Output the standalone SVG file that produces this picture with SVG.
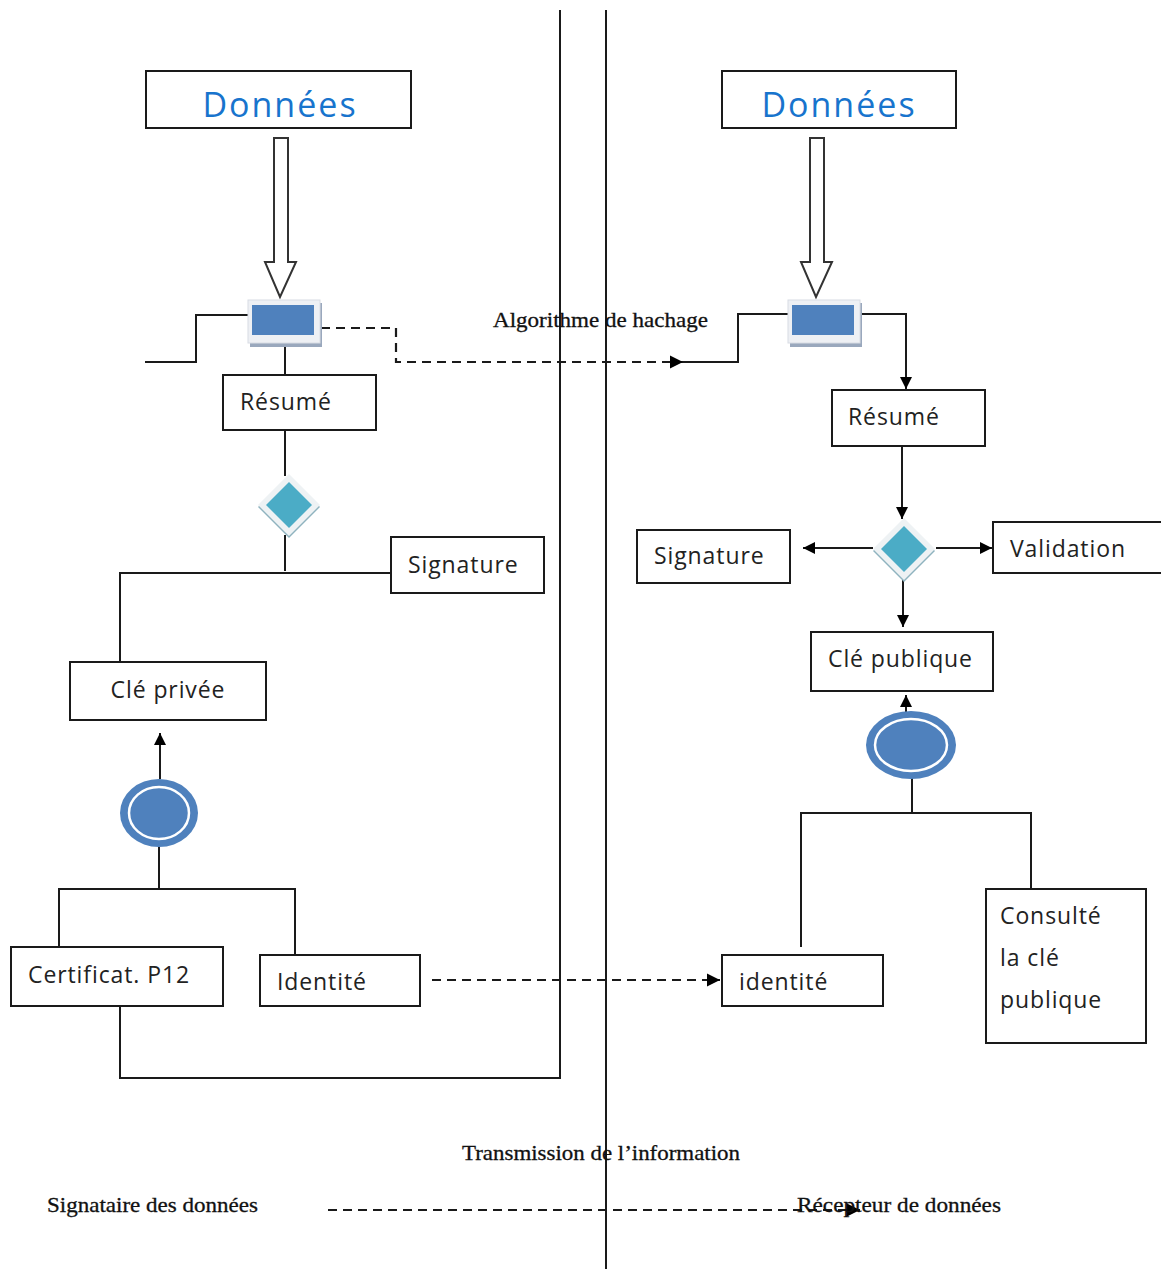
<svg xmlns="http://www.w3.org/2000/svg" width="1161" height="1269" viewBox="0 0 1161 1269">
  <defs>
    <style>
      .box { fill: #fff; stroke: #1a1a1a; stroke-width: 2; }
      .lbl { font-family: "Open Sans", "Liberation Sans", sans-serif; font-size: 23px; letter-spacing: 0.9px; fill: #222; }
      .big { font-family: "Open Sans", "Liberation Sans", sans-serif; font-size: 34px; letter-spacing: 2px; fill: #1874cd; text-anchor: middle; }
      .serif { font-family: "Liberation Serif", serif; font-size: 21px; fill: #111; stroke: #111; stroke-width: 0.3; }
      .ln { fill: none; stroke: #1a1a1a; stroke-width: 2; }
      .dash { fill: none; stroke: #1a1a1a; stroke-width: 2.2; stroke-dasharray: 9 6; }
      .hollow { fill: #fff; stroke: #333; stroke-width: 2; }
    </style>
    <marker id="ah" viewBox="0 0 10 10" refX="10" refY="5" markerWidth="6" markerHeight="6" markerUnits="strokeWidth" orient="auto">
      <path d="M0,0 L10,5 L0,10 z" fill="#000"/>
    </marker>
    <!-- process block: light frame with blue core -->
    <g id="hashBlock">
      <rect x="2" y="3" width="72" height="44" fill="#9aa8bd"/>
      <rect x="0" y="0" width="72" height="43" fill="#eef0f4" stroke="#d8dce4" stroke-width="1"/>
      <rect x="4" y="5" width="62" height="30" fill="#4f81bd"/>
    </g>
    <!-- decision diamond -->
    <g id="decision">
      <path d="M0,-29 L31,2 L0,33 L-31,2 z" fill="#8fb3bf"/>
      <path d="M0,-31 L31,0 L0,31 L-31,0 z" fill="#eef2f4"/>
      <path d="M0,-23 L23,0 L0,23 L-23,0 z" fill="#4bacc6"/>
    </g>
  </defs>

  <!-- swimlane separators -->
  <g id="lanes">
    <line class="ln" x1="560" y1="10" x2="560" y2="1079"/>
    <line class="ln" x1="606" y1="10" x2="606" y2="1269"/>
  </g>

  <!-- connectors -->
  <g id="connectors">
    <!-- left side -->
    <path class="ln" d="M145,362 H196 V315 H250"/>
    <path class="dash" d="M321,328 H396 V362 H683" marker-end="url(#ah)"/>
    <path class="ln" d="M683,362 H738 V314 H792"/>
    <line class="ln" x1="285" y1="343" x2="285" y2="375"/>
    <line class="ln" x1="285" y1="430" x2="285" y2="476"/>
    <line class="ln" x1="285" y1="535" x2="285" y2="571"/>
    <path class="ln" d="M391,573 H120 V662"/>
    <line class="ln" x1="160" y1="779" x2="160" y2="733" marker-end="url(#ah)"/>
    <line class="ln" x1="159" y1="847" x2="159" y2="889"/>
    <path class="ln" d="M59,947 V889 H295 V955"/>
    <path class="ln" d="M120,1006 V1078 H560"/>
    <line class="dash" x1="432" y1="980" x2="720" y2="980" marker-end="url(#ah)"/>
    <!-- right side -->
    <path class="ln" d="M858,314 H906 V389" marker-end="url(#ah)"/>
    <line class="ln" x1="902" y1="446" x2="902" y2="519" marker-end="url(#ah)"/>
    <line class="ln" x1="873" y1="548" x2="803" y2="548" marker-end="url(#ah)"/>
    <line class="ln" x1="936" y1="548" x2="992" y2="548" marker-end="url(#ah)"/>
    <line class="ln" x1="903" y1="580" x2="903" y2="627" marker-end="url(#ah)"/>
    <line class="ln" x1="906" y1="720" x2="906" y2="695" marker-end="url(#ah)"/>
    <line class="ln" x1="912" y1="760" x2="912" y2="813"/>
    <path class="ln" d="M801,947 V813 H1031 V889"/>
    <!-- transmission -->
    <line class="dash" x1="328" y1="1210" x2="860" y2="1210" marker-end="url(#ah)"/>
  </g>

  <!-- sender lane -->
  <g id="donnees-sender">
    <rect class="box" x="146" y="71" width="265" height="57"/>
    <text class="big" x="280" y="117">Données</text>
  </g>
  <g id="feed-sender">
    <path class="hollow" d="M274,138 H288 V262 H296 L280,297 L265,262 H274 z"/>
  </g>
  <g id="hash-sender">
    <use href="#hashBlock" x="248" y="300"/>
  </g>
  <g id="resume-sender">
    <rect class="box" x="223" y="375" width="153" height="55"/>
    <text class="lbl" x="240" y="410">Résumé</text>
  </g>
  <g id="decision-sender">
    <use href="#decision" x="289" y="505"/>
  </g>
  <g id="signature-sender">
    <rect class="box" x="391" y="537" width="153" height="56"/>
    <text class="lbl" x="408" y="573">Signature</text>
  </g>
  <g id="cle-privee">
    <rect class="box" x="70" y="662" width="196" height="58"/>
    <text class="lbl" x="168" y="698" text-anchor="middle">Clé privée</text>
  </g>
  <g id="token-sender">
    <ellipse cx="159" cy="813" rx="39" ry="34" fill="#4f81bd"/>
    <ellipse cx="159" cy="813" rx="30" ry="26" fill="none" stroke="#fff" stroke-width="2.5"/>
  </g>
  <g id="certificat">
    <rect class="box" x="11" y="947" width="212" height="59"/>
    <text class="lbl" x="28" y="983">Certificat. P12</text>
  </g>
  <g id="identite-sender">
    <rect class="box" x="260" y="955" width="160" height="51"/>
    <text class="lbl" x="277" y="990">Identité</text>
  </g>

  <!-- receiver lane -->
  <g id="donnees-receiver">
    <rect class="box" x="722" y="71" width="234" height="57"/>
    <text class="big" x="839" y="117">Données</text>
  </g>
  <g id="feed-receiver">
    <path class="hollow" d="M810,138 H824 V262 H832 L816,297 L801,262 H810 z"/>
  </g>
  <g id="hash-receiver">
    <use href="#hashBlock" x="788" y="300"/>
  </g>
  <g id="resume-receiver">
    <rect class="box" x="832" y="390" width="153" height="56"/>
    <text class="lbl" x="848" y="425">Résumé</text>
  </g>
  <g id="decision-receiver">
    <use href="#decision" x="904" y="549"/>
  </g>
  <g id="signature-receiver">
    <rect class="box" x="637" y="530" width="153" height="53"/>
    <text class="lbl" x="654" y="564">Signature</text>
  </g>
  <g id="validation">
    <rect class="box" x="993" y="522" width="170" height="51"/>
    <text class="lbl" x="1010" y="557">Validation</text>
  </g>
  <g id="cle-publique">
    <rect class="box" x="811" y="632" width="182" height="59"/>
    <text class="lbl" x="828" y="667">Clé publique</text>
  </g>
  <g id="token-receiver">
    <ellipse cx="911" cy="745" rx="45" ry="34" fill="#4f81bd"/>
    <ellipse cx="911" cy="745" rx="36" ry="26" fill="none" stroke="#fff" stroke-width="2.5"/>
  </g>
  <g id="identite-receiver">
    <rect class="box" x="722" y="955" width="161" height="51"/>
    <text class="lbl" x="739" y="990">identité</text>
  </g>
  <g id="consulte">
    <rect class="box" x="986" y="889" width="160" height="154"/>
    <text class="lbl" x="1000" y="924">Consulté</text>
    <text class="lbl" x="1000" y="966">la clé</text>
    <text class="lbl" x="1000" y="1008">publique</text>
  </g>

  <!-- captions -->
  <g id="captions">
    <text class="serif" x="493" y="327" textLength="215" lengthAdjust="spacingAndGlyphs">Algorithme de hachage</text>
    <text class="serif" x="462" y="1160" textLength="278" lengthAdjust="spacingAndGlyphs">Transmission de l’information</text>
    <text class="serif" x="47" y="1212" textLength="211" lengthAdjust="spacingAndGlyphs">Signataire des données</text>
    <text class="serif" x="797" y="1212" textLength="204" lengthAdjust="spacingAndGlyphs">Récepteur de données</text>
  </g>
</svg>
